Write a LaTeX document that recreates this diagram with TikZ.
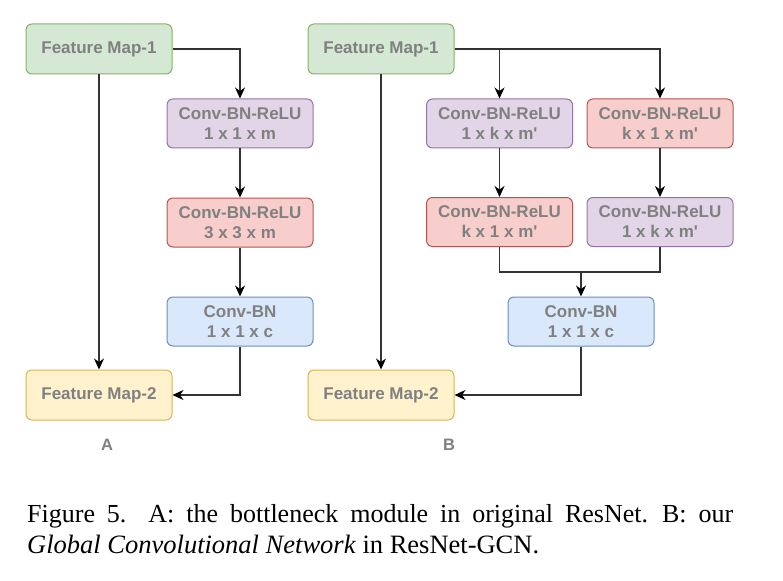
\documentclass[tikz,border=0pt]{standalone}
\usepackage{fontspec}
\setmainfont{Liberation Serif}
\newfontfamily\boxfont{Liberation Sans}
\usetikzlibrary{arrows.meta}
\definecolor{grnfill}{HTML}{D5E8D4}\definecolor{grnline}{HTML}{82B366}
\definecolor{purfill}{HTML}{E1D5E7}\definecolor{purline}{HTML}{9673A6}
\definecolor{redfill}{HTML}{F8CECC}\definecolor{redline}{HTML}{B85450}
\definecolor{blufill}{HTML}{DAE8FC}\definecolor{bluline}{HTML}{6C8EBF}
\definecolor{yelfill}{HTML}{FFF2CC}\definecolor{yelline}{HTML}{D6B656}
\definecolor{txtgray}{HTML}{808080}
\begin{document}
\begin{tikzpicture}[x=1pt, y=-1pt,
  blk/.style={rounded corners=6pt, line width=1pt, minimum width=146pt, minimum height=49pt,
    inner sep=0pt, align=center, text=txtgray, font=\boxfont\bfseries\fontsize{17}{20}\selectfont},
  grnblk/.style={blk, fill=grnfill, draw=grnline, minimum height=50pt},
  purblk/.style={blk, fill=purfill, draw=purline},
  redblk/.style={blk, fill=redfill, draw=redline},
  blublk/.style={blk, fill=blufill, draw=bluline},
  yelblk/.style={blk, fill=yelfill, draw=yelline, minimum height=50pt},
  wire/.style={line width=1.2pt, draw=black!80},
  arr/.style={wire, -{Stealth[length=11pt, width=10pt, inset=3.5pt, black]}},
  sublbl/.style={text=txtgray, font=\boxfont\bfseries\fontsize{16.5}{19}\selectfont}]
\useasboundingbox (0,0) rectangle (783,580);
% module A
\node[grnblk] (fmA1) at (99,49){Feature Map-1};
\node[purblk] (convA1) at (240,123.5){Conv-BN-ReLU\\1 x 1 x m};
\node[redblk] (convA2) at (240,222.5){Conv-BN-ReLU\\3 x 3 x m};
\node[blublk] (convA3) at (240,321.5){Conv-BN\\1 x 1 x c};
\node[yelblk] (fmA2) at (99,395){Feature Map-2};
\node[sublbl] (lblA) at (107,445){A};
\draw[arr](fmA1.east) -| (convA1.north);
\draw[arr](convA1) -- (convA2);
\draw[arr](convA2) -- (convA3);
\draw[arr](fmA1) -- (fmA2);
\draw[arr](convA3.south) |- (fmA2.east);
% module B
\node[grnblk] (fmB1) at (381,49){Feature Map-1};
\node[purblk] (convB1) at (499.5,123.5){Conv-BN-ReLU\\1 x k x m'};
\node[redblk] (convB2) at (660,123.5){Conv-BN-ReLU\\k x 1 x m'};
\node[redblk] (convB3) at (499.5,222){Conv-BN-ReLU\\k x 1 x m'};
\node[purblk] (convB4) at (660,222){Conv-BN-ReLU\\1 x k x m'};
\node[blublk] (convB5) at (581,321.5){Conv-BN\\1 x 1 x c};
\node[yelblk] (fmB2) at (381,395){Feature Map-2};
\node[sublbl] (lblB) at (449,445){B};
\coordinate (mrgB) at (581,272);
\draw[arr](fmB1.east) -| (convB2.north);
\draw[arr](fmB1.east) -| (convB1.north);
\draw[arr](convB1) -- (convB3);
\draw[arr](convB2) -- (convB4);
\draw[wire](convB3.south) |- (mrgB);
\draw[wire](convB4.south) |- (mrgB);
\draw[arr](mrgB) -- (convB5.north);
\draw[arr](fmB1) -- (fmB2);
\draw[arr](convB5.south) |- (fmB2.east);
% caption
\node[anchor=base west, inner sep=0pt, font=\fontsize{26}{31}\selectfont] (capA) at (27,522)
  {\makebox[706pt][s]{Figure 5.\hspace{22pt}A: the bottleneck module in original ResNet.\hspace{14pt}B: our}};
\node[anchor=base west, inner sep=0pt, font=\fontsize{26.5}{31}\selectfont] (capB) at (27,553)
  {\textit{Global Convolutional Network} in ResNet-GCN.};
\end{tikzpicture}
\end{document}
